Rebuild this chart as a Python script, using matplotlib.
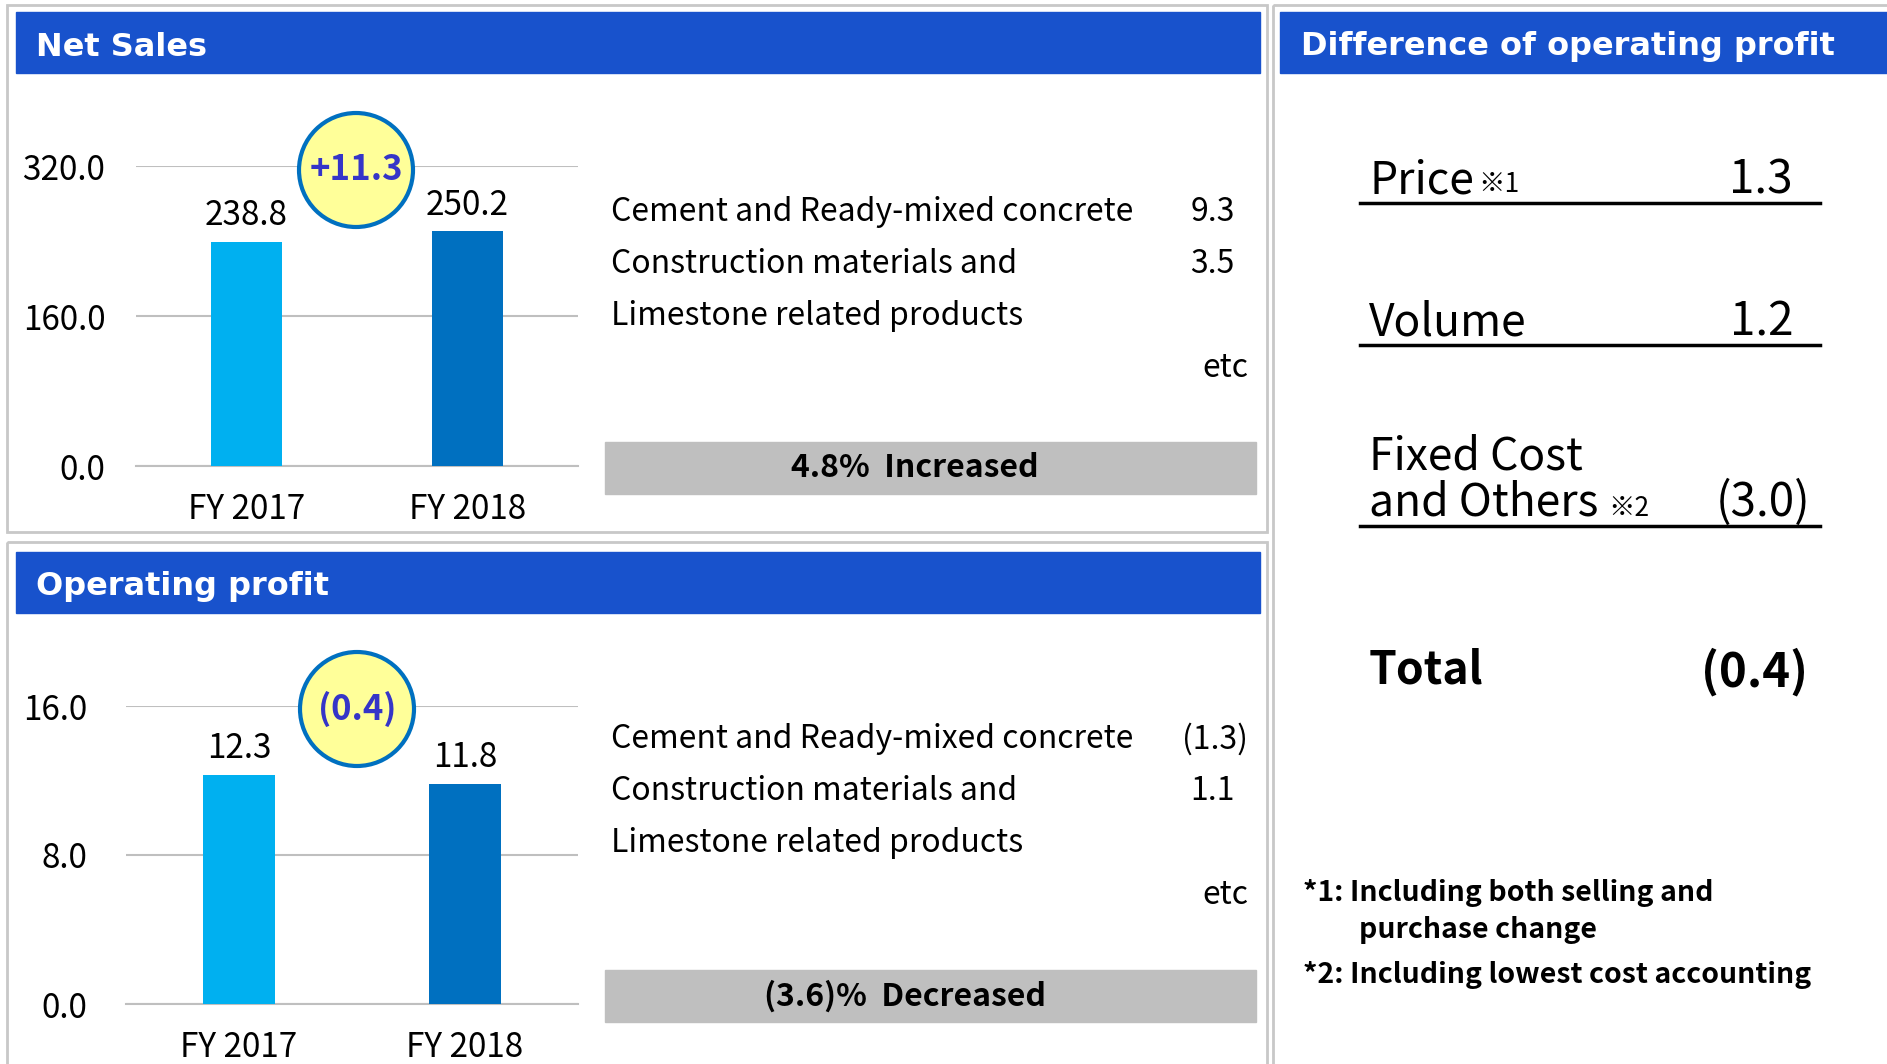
import matplotlib.pyplot as plt
from matplotlib.patches import Rectangle, Circle

plt.rcParams['font.family'] = ['Noto Sans CJK JP', 'DejaVu Sans']

# data
years = ['FY 2017', 'FY 2018']
net_sales = [238.8, 250.2]
op_profit = [12.3, 11.8]
sales_ticks = [0.0, 160.0, 320.0]
profit_ticks = [0.0, 8.0, 16.0]
sales_diff = '+11.3'
profit_diff = '(0.4)'
sales_rate = '4.8%  Increased'
profit_rate = '(3.6)%  Decreased'
items = ['Cement and Ready-mixed concrete', 'Construction materials and', 'Limestone related products']
sales_item_vals = ['9.3', '3.5', '']
profit_item_vals = ['(1.3)', '1.1', '']
factors = ['Price', 'Volume', 'Fixed Cost\nand Others']
factor_marks = ['※1', '', '※2']
factor_vals = ['1.3', '1.2', '(3.0)']
total_val = '(0.4)'
notes = ['*1: Including both selling and', 'purchase change', '*2: Including lowest cost accounting']

W, H = 1887, 1064
HEADER = '#1852CC'
C17 = '#00B0F0'
C18 = '#0070C0'
GRID = '#BFBFBF'

fig = plt.figure(figsize=(W / 100, H / 100), dpi=100)
bg = fig.add_axes([0, 0, 1, 1])
bg.set_xlim(0, W)
bg.set_ylim(H, 0)
bg.axis('off')

# panel frames
for x0, y0, x1, y1 in [(7, 5, 1267, 532), (7, 542, 1267, 1070), (1273, 5, 1895, 1070)]:
    bg.add_patch(Rectangle((x0, y0), x1 - x0, y1 - y0, fill=False, ec='#C8C8C8', lw=2))

# headers
hdr_font = dict(family='DejaVu Sans', weight='bold', color='white', fontsize=23, va='center')
bg.add_patch(Rectangle((16, 12), 1244, 61, color=HEADER))
bg.text(36, 47, 'Net Sales', **hdr_font)
bg.add_patch(Rectangle((16, 552), 1244, 61, color=HEADER))
bg.text(36, 587, 'Operating profit', **hdr_font)
bg.add_patch(Rectangle((1280, 12), 620, 61, color=HEADER))
bg.text(1301, 47, 'Difference of operating profit', **hdr_font)


def item_list(y0, vals, rate, rate_x, rate_y):
    for i, name in enumerate(items):
        y = y0 + i * 52
        bg.text(611, y, name, fontsize=23, va='center')
        v = vals[i]
        if v:
            xr = 1248 if v.endswith(')') else 1235
            bg.text(xr, y, v, fontsize=23, va='center', ha='right')
    bg.text(1248, y0 + 3 * 52, 'etc', fontsize=23, va='center', ha='right')
    bg.add_patch(Rectangle((605, rate_y - 26), 651, 52, color='#BFBFBF'))
    bg.text(rate_x, rate_y, rate, fontsize=23, weight='bold', va='center', ha='center')


item_list(212, sales_item_vals, sales_rate, 915, 468)
item_list(739, profit_item_vals, profit_rate, 905, 996)


def bar_chart(rect, vals, ticks, pad):
    ax = fig.add_axes(rect)
    ax.bar(range(len(years)), vals, width=0.32, color=[C17, C18], zorder=3)
    ax.set_xlim(-0.5, 1.5)
    ax.set_ylim(ticks[0], ticks[-1])
    ax.set_yticks(ticks)
    ax.set_yticklabels(['{:.1f}'.format(t) for t in ticks], fontsize=24)
    ax.set_xticks(range(len(years)))
    ax.set_xticklabels(years, fontsize=24)
    ax.tick_params(length=0)
    ax.tick_params(axis='y', pad=pad)
    ax.tick_params(axis='x', pad=19)
    ax.grid(axis='y', color=GRID, lw=1.5, zorder=0)
    for s in ['top', 'right', 'left']:
        ax.spines[s].set_visible(False)
    ax.spines['bottom'].set_color(GRID)
    ax.spines['bottom'].set_linewidth(1.5)
    ax.patch.set_alpha(0)
    for i, v in enumerate(vals):
        ax.annotate('{:.1f}'.format(v), (i, v), xytext=(0, 19), textcoords='offset points',
                    ha='center', va='center', fontsize=24)
    return ax


bar_chart([136 / W, 1 - 466 / H, 442 / W, 300 / H], net_sales, sales_ticks, 22)
bar_chart([126 / W, 1 - 1004 / H, 452 / W, 298 / H], op_profit, profit_ticks, 28)

# difference bubbles
top = fig.add_axes([0, 0, 1, 1])
top.set_xlim(0, W)
top.set_ylim(H, 0)
top.axis('off')
for (cx, cy), label in [((356, 170), sales_diff), ((357, 709), profit_diff)]:
    top.add_patch(Circle((cx, cy), 57, fc='#FFFF99', ec='#0070C0', lw=3))
    top.text(cx, cy, label, fontsize=25, weight='bold', color='#3535C8', ha='center', va='center')

# right panel: breakdown
rows_y = [180, 322, 503]
for name, mark, val, y in zip(factors, factor_marks, factor_vals, rows_y):
    lines = name.split('\n')
    for k, line in enumerate(lines):
        bg.text(1369, y - (len(lines) - 1 - k) * 46, line, fontsize=32, va='center')
    if mark:
        mx = 1478 if name == 'Price' else 1608
        bg.text(mx, y + 5, mark, fontsize=19, va='center')
    xr = 1811 if val.endswith(')') else 1793
    bg.text(xr, y, val, fontsize=33, va='center', ha='right')
    bg.plot([1360, 1820], [y + 23, y + 23], color='black', lw=2.5)

bg.text(1369, 670, 'Total', fontsize=32, weight='bold', va='center')
bg.text(1808, 672, total_val, fontsize=34, weight='bold', va='center', ha='right')

for txt, x, y in zip(notes, [1303, 1359, 1303], [893, 930, 975]):
    bg.text(x, y, txt, fontsize=20.5, weight='bold', va='center')

fig.savefig('out.png', dpi=100)
